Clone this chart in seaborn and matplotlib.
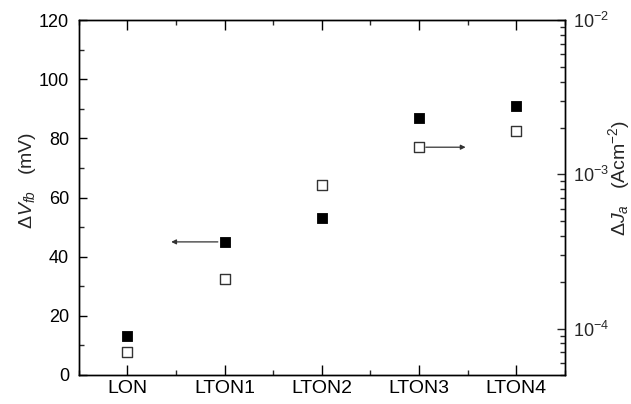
import numpy as np
import pandas as pd
import matplotlib
matplotlib.use("Agg")
import matplotlib.pyplot as plt
import matplotlib.ticker as mticker
import seaborn as sns

categories = ["LON", "LTON1", "LTON2", "LTON3", "LTON4"]
delta_vfb = [13, 45, 53, 87, 91]                      # mV, filled squares (left axis)
delta_ja = [7.0e-5, 2.08e-4, 8.5e-4, 1.50e-3, 1.90e-3]  # A/cm^2, open squares (right axis)

sns.set_style("ticks")
plt.rcParams["font.family"] = ["Liberation Sans", "DejaVu Sans"]
plt.rcParams["mathtext.fontset"] = "custom"
plt.rcParams["mathtext.rm"] = "Liberation Sans"
plt.rcParams["mathtext.it"] = "Liberation Sans:italic"
plt.rcParams["mathtext.default"] = "regular"

df = pd.DataFrame({"x": np.arange(len(categories)), "vfb": delta_vfb, "ja": delta_ja})

fig = plt.figure(figsize=(6.31, 4.04), dpi=100)
ax = fig.add_axes([0.125, 0.072, 0.77, 0.878])
ax2 = ax.twinx()

sns.scatterplot(data=df, x="x", y="vfb", ax=ax, marker="s", s=58, color="black",
                edgecolor="black", linewidth=0.6, zorder=3)
sns.scatterplot(data=df, x="x", y="ja", ax=ax2, marker="s", s=50, facecolor="white",
                edgecolor="#333333", linewidth=1.0, zorder=3)

ax.set_xlim(-0.5, 4.5)
ax.set_ylim(0, 120)
ax2.set_yscale("log")
ax2.set_ylim(5e-5, 1e-2)

ax.set_xticks(np.arange(len(categories)))
ax.set_xticklabels(categories)
ax.xaxis.set_minor_locator(mticker.FixedLocator(np.arange(-0.5, 4.6, 1.0)))
ax.yaxis.set_major_locator(mticker.MultipleLocator(20))
ax.yaxis.set_minor_locator(mticker.MultipleLocator(10))
ax2.yaxis.set_major_locator(mticker.LogLocator(base=10, numticks=10))
ax2.yaxis.set_minor_locator(mticker.LogLocator(base=10, subs=np.arange(2, 10), numticks=10))
ax2.yaxis.set_minor_formatter(mticker.NullFormatter())

ax.set_xlabel("")
ax.set_ylabel(r"$\Delta\mathit{V}_{\mathit{fb}}$   (mV)", fontsize=14)
ax2.set_ylabel(r"$\Delta\mathit{J}_{\mathit{a}}$   (Acm$^{-2}$)", fontsize=14)
ax.yaxis.set_label_coords(-0.084, 0.548)
ax2.yaxis.set_label_coords(1.086, 0.555)

ax.tick_params(axis="both", which="major", direction="in", length=6, width=1,
               labelsize=13, top=True, right=False, colors="black", pad=7)
ax.tick_params(axis="both", which="minor", direction="in", length=3.5, width=1,
               top=True, right=False)
ax.tick_params(axis="x", which="major", length=7, pad=4, labelsize=14)
ax2.tick_params(axis="y", which="major", direction="in", length=6, width=1, labelsize=13, pad=6)
ax2.tick_params(axis="y", which="minor", direction="in", length=3.5, width=1)

for a in (ax, ax2):
    for sp in a.spines.values():
        sp.set_visible(True)
        sp.set_linewidth(1.0)
        sp.set_color("black")

ax.annotate("", xy=(0.45, delta_vfb[1]), xytext=(0.93, delta_vfb[1]),
            arrowprops=dict(arrowstyle="-|>", color="#333333", lw=0.9,
                            mutation_scale=7, shrinkA=0, shrinkB=0))
ax2.annotate("", xy=(3.48, delta_ja[3]), xytext=(3.07, delta_ja[3]),
             arrowprops=dict(arrowstyle="-|>", color="#333333", lw=0.9,
                             mutation_scale=7, shrinkA=0, shrinkB=0))

fig.savefig("out.png", dpi=100)
